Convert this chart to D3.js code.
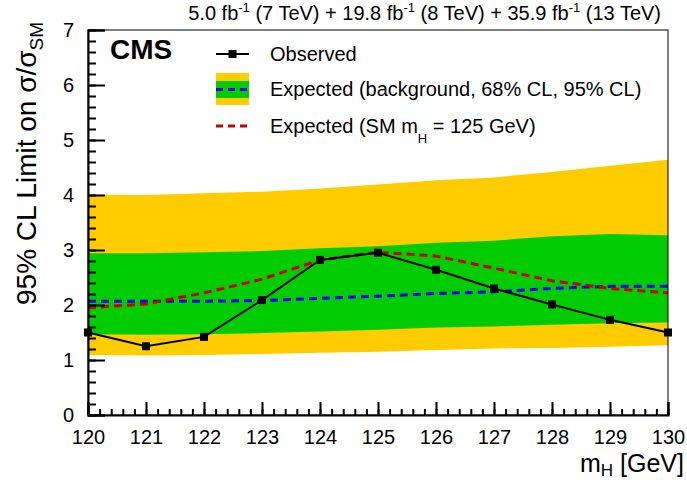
<!DOCTYPE html>
<html>
<head>
<meta charset="utf-8">
<script src="https://cdn.jsdelivr.net/npm/d3@7"></script>
<style>
  body { margin: 0; background: #fff; }
  svg text { font-family: "Liberation Sans", Arial, Helvetica, sans-serif; }
</style>
</head>
<body>
<div id="drawing_region"></div>
<script>
// Higgs mass points [GeV]
const masses = [120, 121, 122, 123, 124, 125, 126, 127, 128, 129, 130];
// 95% CL limits on sigma/sigma_SM
const observed = [1.50, 1.25, 1.42, 2.09, 2.82, 2.95, 2.64, 2.30, 2.01, 1.73, 1.50];
const expMedian = [2.07, 2.07, 2.07, 2.08, 2.12, 2.16, 2.21, 2.24, 2.30, 2.34, 2.34];
const expSM = [1.95, 2.02, 2.22, 2.47, 2.82, 2.96, 2.89, 2.67, 2.44, 2.30, 2.22];
const band68Lo = [1.47, 1.46, 1.47, 1.49, 1.52, 1.55, 1.59, 1.61, 1.64, 1.67, 1.68];
const band68Hi = [2.94, 2.94, 2.96, 2.98, 3.03, 3.07, 3.13, 3.17, 3.25, 3.29, 3.27];
const band95Lo = [1.09, 1.08, 1.09, 1.11, 1.13, 1.15, 1.18, 1.21, 1.22, 1.24, 1.27];
const band95Hi = [4.01, 4.00, 4.03, 4.06, 4.12, 4.19, 4.27, 4.32, 4.42, 4.53, 4.64];
// axis ticks
const xTicks = [120, 121, 122, 123, 124, 125, 126, 127, 128, 129, 130];
const yTicks = [0, 1, 2, 3, 4, 5, 6, 7];

const data = masses.map((m, i) => ({
    m: m,
    obs: observed[i],
    med: expMedian[i],
    sm: expSM[i],
    lo68: band68Lo[i], hi68: band68Hi[i],
    lo95: band95Lo[i], hi95: band95Hi[i]
}));

var config = {
    width: 687,
    height: 480,
    margin: {top: 30, right: 19, bottom: 65, left: 88}
};

const YELLOW = '#ffcc00';
const GREEN = '#00cc00';
const BLUE = '#0000ff';
const RED = '#cc0000';

const svg = d3.select('#drawing_region')
    .append('svg')
    .attr('width', config.width)
    .attr('height', config.height);

const inner_width = config.width - config.margin.left - config.margin.right;
const inner_height = config.height - config.margin.top - config.margin.bottom;

const chart = svg.append('g')
    .attr('transform', `translate(${config.margin.left}, ${config.margin.top})`);

const xscale = d3.scaleLinear()
    .domain([120, 130])
    .range([0, inner_width]);

const yscale = d3.scaleLinear()
    .domain([0, 7])
    .range([inner_height, 0]);

// bands
const area = (lo, hi) => d3.area()
    .x(d => xscale(d.m))
    .y0(d => yscale(d[lo]))
    .y1(d => yscale(d[hi]));

chart.append('path')
    .datum(data)
    .attr('fill', YELLOW)
    .attr('d', area('lo95', 'hi95'));

chart.append('path')
    .datum(data)
    .attr('fill', GREEN)
    .attr('d', area('lo68', 'hi68'));

// dashed expected lines
const line = key => d3.line()
    .x(d => xscale(d.m))
    .y(d => yscale(d[key]));

chart.append('path')
    .datum(data)
    .attr('fill', 'none')
    .attr('stroke', BLUE)
    .attr('stroke-width', 3)
    .attr('stroke-dasharray', '8,5')
    .attr('d', line('med'));

chart.append('path')
    .datum(data)
    .attr('fill', 'none')
    .attr('stroke', RED)
    .attr('stroke-width', 3)
    .attr('stroke-dasharray', '8,5')
    .attr('d', line('sm'));

// observed
chart.append('path')
    .datum(data)
    .attr('fill', 'none')
    .attr('stroke', '#000')
    .attr('stroke-width', 2)
    .attr('d', line('obs'));

chart.selectAll('rect.marker')
    .data(data)
    .join('rect')
    .attr('class', 'marker')
    .attr('x', d => xscale(d.m) - 4)
    .attr('y', d => yscale(d.obs) - 4)
    .attr('width', 8)
    .attr('height', 8)
    .attr('fill', '#000');

// frame
chart.append('rect')
    .attr('x', 0)
    .attr('y', 0)
    .attr('width', inner_width)
    .attr('height', inner_height)
    .attr('fill', 'none')
    .attr('stroke', '#000')
    .attr('stroke-width', 1);

// axes (ticks point inward, like ROOT)
const minorX = d3.range(120, 130.001, 0.2);
const minorY = d3.range(0, 7.001, 0.2);

chart.append('g')
    .attr('transform', `translate(0, ${inner_height})`)
    .call(d3.axisBottom(xscale).tickValues(minorX).tickSize(-6).tickFormat(''))
    .call(g => g.select('.domain').remove());

const xaxis_group = chart.append('g')
    .attr('transform', `translate(0, ${inner_height})`)
    .call(d3.axisBottom(xscale).tickValues(xTicks).tickSize(-13).tickPadding(15).tickFormat(d3.format('d')));

chart.append('g')
    .call(d3.axisLeft(yscale).tickValues(minorY).tickSize(-8).tickFormat(''))
    .call(g => g.select('.domain').remove());

const yaxis_group = chart.append('g')
    .call(d3.axisLeft(yscale).tickValues(yTicks).tickSize(-17).tickPadding(14).tickFormat(d3.format('d')));

svg.selectAll('.tick line').attr('stroke-width', 2);
svg.selectAll('.domain').attr('stroke-width', 2);

xaxis_group.selectAll('text').attr('font-size', 20).attr('font-family', null).attr('fill', '#000');
yaxis_group.selectAll('text').attr('font-size', 20).attr('font-family', null).attr('fill', '#000');

// axis titles
const xtitle = svg.append('text')
    .attr('x', config.width - 3)
    .attr('y', 472)
    .attr('text-anchor', 'end')
    .attr('font-size', 25);
xtitle.append('tspan').text('m');
xtitle.append('tspan').attr('dy', 4).attr('font-size', 17).text('H');
xtitle.append('tspan').attr('dy', -4).text(' [GeV]');

const ytitle = svg.append('text')
    .attr('transform', 'translate(36, 22) rotate(-90)')
    .attr('text-anchor', 'end')
    .attr('font-size', 28);
ytitle.append('tspan').text('95% CL Limit on σ/σ');
ytitle.append('tspan').attr('dy', 7).attr('font-size', 19).text('SM');

// top lumi label
const lumi = svg.append('text')
    .attr('x', 661)
    .attr('y', 20)
    .attr('text-anchor', 'end')
    .attr('font-size', 20);
lumi.append('tspan').text('5.0 fb');
lumi.append('tspan').attr('dy', -8).attr('font-size', 13).text('-1');
lumi.append('tspan').attr('dy', 8).text(' (7 TeV) + 19.8 fb');
lumi.append('tspan').attr('dy', -8).attr('font-size', 13).text('-1');
lumi.append('tspan').attr('dy', 8).text(' (8 TeV) + 35.9 fb');
lumi.append('tspan').attr('dy', -8).attr('font-size', 13).text('-1');
lumi.append('tspan').attr('dy', 8).text(' (13 TeV)');

// CMS label
svg.append('text')
    .attr('x', 110)
    .attr('y', 59)
    .attr('font-size', 28)
    .attr('font-weight', 'bold')
    .text('CMS');

// legend
const legend = svg.append('g');
const lx0 = 216, lx1 = 249, tx = 270;

legend.append('line')
    .attr('x1', lx0).attr('x2', lx1).attr('y1', 54).attr('y2', 54)
    .attr('stroke', '#000').attr('stroke-width', 2);
legend.append('rect')
    .attr('x', (lx0 + lx1) / 2 - 4).attr('y', 50).attr('width', 8).attr('height', 8)
    .attr('fill', '#000');

legend.append('rect')
    .attr('x', lx0).attr('y', 73).attr('width', lx1 - lx0).attr('height', 32)
    .attr('fill', YELLOW);
legend.append('rect')
    .attr('x', lx0).attr('y', 81).attr('width', lx1 - lx0).attr('height', 17)
    .attr('fill', GREEN);
legend.append('line')
    .attr('x1', lx0).attr('x2', lx1).attr('y1', 89.5).attr('y2', 89.5)
    .attr('stroke', BLUE).attr('stroke-width', 3).attr('stroke-dasharray', '7,5');

legend.append('line')
    .attr('x1', lx0).attr('x2', lx1).attr('y1', 126).attr('y2', 126)
    .attr('stroke', RED).attr('stroke-width', 3).attr('stroke-dasharray', '7,5');

const ltext = [
    {y: 54, parts: [['Observed', 0, 20]]},
    {y: 89, parts: [['Expected (background, 68% CL, 95% CL)', 0, 20]]},
    {y: 126, parts: [['Expected (SM m', 0, 20], ['H', 10, 13], [' = 125 GeV)', -10, 20]]}
];
ltext.forEach(row => {
    const t = legend.append('text')
        .attr('x', tx)
        .attr('y', row.y + 7)
        .attr('font-size', 20);
    row.parts.forEach(p => {
        t.append('tspan').attr('dy', p[1]).attr('font-size', p[2]).text(p[0]);
    });
});
</script>
</body>
</html>
